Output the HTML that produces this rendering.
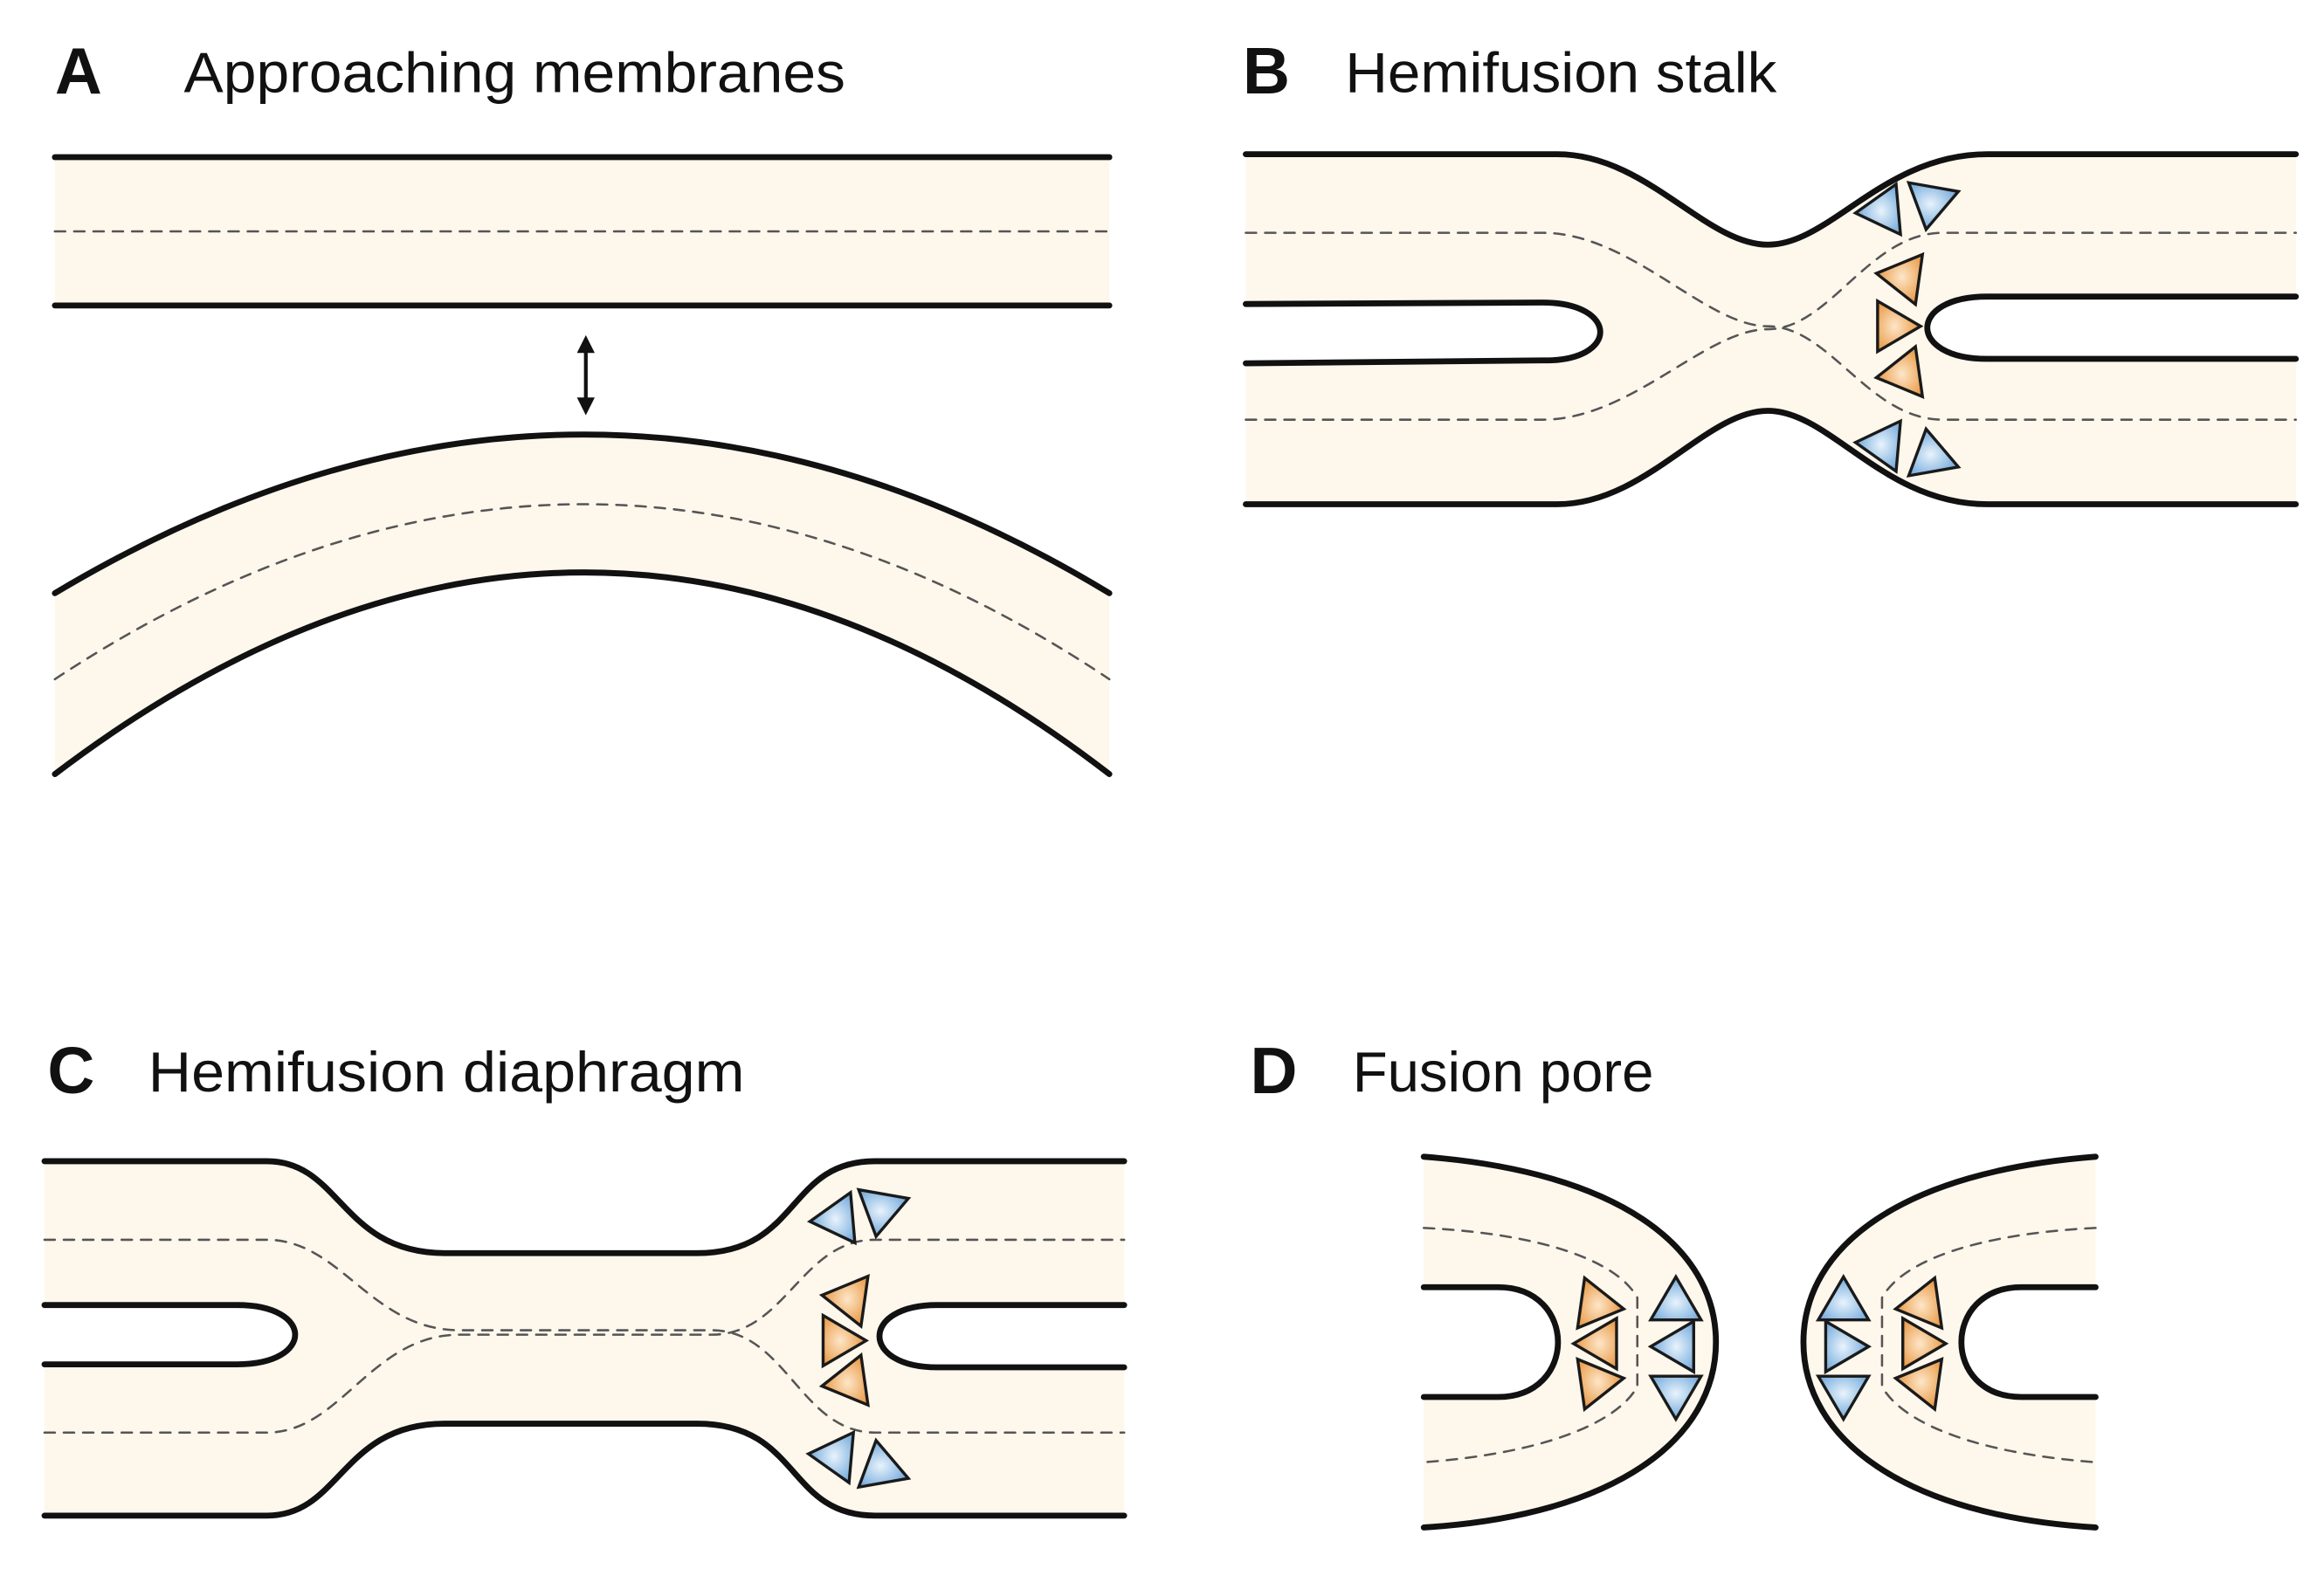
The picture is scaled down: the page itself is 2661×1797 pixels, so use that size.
<!DOCTYPE html>
<html><head><meta charset="utf-8"><style>
html,body{margin:0;padding:0;background:#fff;}
svg{display:block;}
text{font-family:"Liberation Sans",sans-serif;fill:#111;}
</style></head><body>
<svg width="2661" height="1797" viewBox="0 0 1567 1058" preserveAspectRatio="none" xmlns="http://www.w3.org/2000/svg">
<defs>
<radialGradient id="gb" cx="0.4" cy="0.5" r="0.6"><stop offset="0" stop-color="#e8f3fc"/><stop offset="1" stop-color="#6fa7da"/></radialGradient>
<radialGradient id="go" cx="0.4" cy="0.5" r="0.6"><stop offset="0" stop-color="#fde6c8"/><stop offset="1" stop-color="#e8963f"/></radialGradient>
<polygon id="tb" points="19,0 -10,17 -10,-17" fill="url(#gb)" stroke="#1a1a1a" stroke-width="2"/>
<polygon id="to" points="19,0 -10,17 -10,-17" fill="url(#go)" stroke="#1a1a1a" stroke-width="2"/>
</defs>
<g stroke-linecap="round">
<text x="37" y="63" font-size="44" font-weight="bold">A</text>
<text x="124" y="62" font-size="38" textLength="446" lengthAdjust="spacingAndGlyphs">Approaching membranes</text>
<text x="838" y="63" font-size="44" font-weight="bold">B</text>
<text x="907" y="62" font-size="38" textLength="291" lengthAdjust="spacingAndGlyphs">Hemifusion stalk</text>
<text x="32" y="737" font-size="44" font-weight="bold">C</text>
<text x="100" y="736" font-size="38" textLength="402" lengthAdjust="spacingAndGlyphs">Hemifusion diaphragm</text>
<text x="843" y="737" font-size="44" font-weight="bold">D</text>
<text x="912" y="736" font-size="38" textLength="203" lengthAdjust="spacingAndGlyphs">Fusion pore</text>

<!-- Panel A -->
<rect x="37" y="106" width="711" height="100" fill="#fdf7ec"/>
<line x1="37" y1="106" x2="748" y2="106" stroke="#111" stroke-width="4"/>
<line x1="37" y1="206" x2="748" y2="206" stroke="#111" stroke-width="4"/>
<line x1="37" y1="156" x2="748" y2="156" stroke="#555" stroke-width="1.5" stroke-dasharray="7,6"/>
<line x1="395" y1="234" x2="395" y2="272" stroke="#111" stroke-width="2.5"/>
<polygon points="395,226 389,238 401,238" fill="#111"/>
<polygon points="395,280 389,268 401,268" fill="#111"/>
<path d="M37,400 Q395,186 748,400 L748,522 Q395,250 37,522 Z" fill="#fdf7ec"/>
<path d="M37,400 Q395,186 748,400" fill="none" stroke="#111" stroke-width="4"/>
<path d="M37,522 Q395,250 748,522" fill="none" stroke="#111" stroke-width="4"/>
<path d="M37,458 Q395,222 748,458" fill="none" stroke="#555" stroke-width="1.5" stroke-dasharray="7,6"/>

<!-- Panel B -->
<path d="M840,104 L1050,104 C1110,104 1150,165 1192,165 C1234,165 1270,104 1340,104 L1548,104 L1548,340 L1340,340 C1270,340 1234,277 1192,277 C1150,277 1110,340 1050,340 L840,340 Z" fill="#fdf7ec"/>
<path d="M840,104 L1050,104 C1110,104 1150,165 1192,165 C1234,165 1270,104 1340,104 L1548,104" fill="none" stroke="#111" stroke-width="4"/>
<path d="M840,340 L1050,340 C1110,340 1150,277 1192,277 C1234,277 1270,340 1340,340 L1548,340" fill="none" stroke="#111" stroke-width="4"/>
<path d="M840,157 L1040,157 C1100,157 1150,220 1192,220 C1234,220 1260,283 1310,283 L1548,283" fill="none" stroke="#555" stroke-width="1.5" stroke-dasharray="7,6"/>
<path d="M840,283 L1040,283 C1100,283 1150,222 1192,222 C1234,222 1260,157 1310,157 L1548,157" fill="none" stroke="#555" stroke-width="1.5" stroke-dasharray="7,6"/>
<path d="M840,205 L1040,204 C1092,204 1092,244 1040,243 L840,245" fill="#fff" stroke="#111" stroke-width="4"/>
<path d="M1548,200 L1340,200 C1286,200 1286,242 1340,242 L1548,242" fill="#fff" stroke="#111" stroke-width="4"/>
<use href="#tb" transform="translate(1270,142) rotate(175)"/>
<use href="#tb" transform="translate(1302,136) rotate(100)"/>
<use href="#to" transform="translate(1284,187) rotate(188)"/>
<use href="#to" transform="translate(1276,220) rotate(0)"/>
<use href="#to" transform="translate(1284,252) rotate(172)"/>
<use href="#tb" transform="translate(1270,300) rotate(185)"/>
<use href="#tb" transform="translate(1302,308) rotate(-100)"/>

<!-- Panel C -->
<path d="M30,783 L180,783 C230,783 230,845 300,845 L470,845 C540,845 530,783 590,783 L758,783 L758,1022 L590,1022 C530,1022 540,960 470,960 L300,960 C230,960 230,1022 180,1022 L30,1022 Z" fill="#fdf7ec"/>
<path d="M30,783 L180,783 C230,783 230,845 300,845 L470,845 C540,845 530,783 590,783 L758,783" fill="none" stroke="#111" stroke-width="4"/>
<path d="M30,1022 L180,1022 C230,1022 230,960 300,960 L470,960 C540,960 530,1022 590,1022 L758,1022" fill="none" stroke="#111" stroke-width="4"/>
<path d="M30,836 L180,836 C230,836 250,897 310,897 L480,897 C530,897 540,966 590,966 L758,966" fill="none" stroke="#555" stroke-width="1.5" stroke-dasharray="7,6"/>
<path d="M30,966 L180,966 C230,966 250,900 310,900 L480,900 C530,900 540,836 590,836 L758,836" fill="none" stroke="#555" stroke-width="1.5" stroke-dasharray="7,6"/>
<path d="M30,880 L160,880 C212,880 212,920 160,920 L30,920" fill="#fff" stroke="#111" stroke-width="4"/>
<path d="M758,880 L632,880 C580,880 580,922 632,922 L758,922" fill="#fff" stroke="#111" stroke-width="4"/>
<use href="#tb" transform="translate(565,822) rotate(175)"/>
<use href="#tb" transform="translate(594,815) rotate(100)"/>
<use href="#to" transform="translate(573,876) rotate(188)"/>
<use href="#to" transform="translate(565,904) rotate(0)"/>
<use href="#to" transform="translate(573,932) rotate(172)"/>
<use href="#tb" transform="translate(564,982) rotate(185)"/>
<use href="#tb" transform="translate(594,990) rotate(-100)"/>

<!-- Panel D -->
<g id="dl">
<path d="M960,780 C1090,790 1157,840 1157,905 C1157,970 1090,1022 960,1030 Z" fill="#fdf7ec"/>
<path d="M960,780 C1090,790 1157,840 1157,905 C1157,970 1090,1022 960,1030" fill="none" stroke="#111" stroke-width="4"/>
<path d="M960,828 C1040,832 1090,850 1104,875 L1104,935 C1090,960 1040,980 960,986" fill="none" stroke="#555" stroke-width="1.5" stroke-dasharray="7,6"/>
<path d="M960,868 L1010,868 C1064,868 1064,942 1010,942 L960,942" fill="#fff" stroke="#111" stroke-width="4"/>
<use href="#to" transform="translate(1076,880) rotate(8)"/>
<use href="#to" transform="translate(1080,906) rotate(180)"/>
<use href="#to" transform="translate(1076,932) rotate(-8)"/>
<use href="#tb" transform="translate(1130,880) rotate(-90)"/>
<use href="#tb" transform="translate(1132,908) rotate(180)"/>
<use href="#tb" transform="translate(1130,938) rotate(90)"/>
</g>
<use href="#dl" transform="translate(2373,0) scale(-1,1)"/>
</g>
</svg>
</body></html>
